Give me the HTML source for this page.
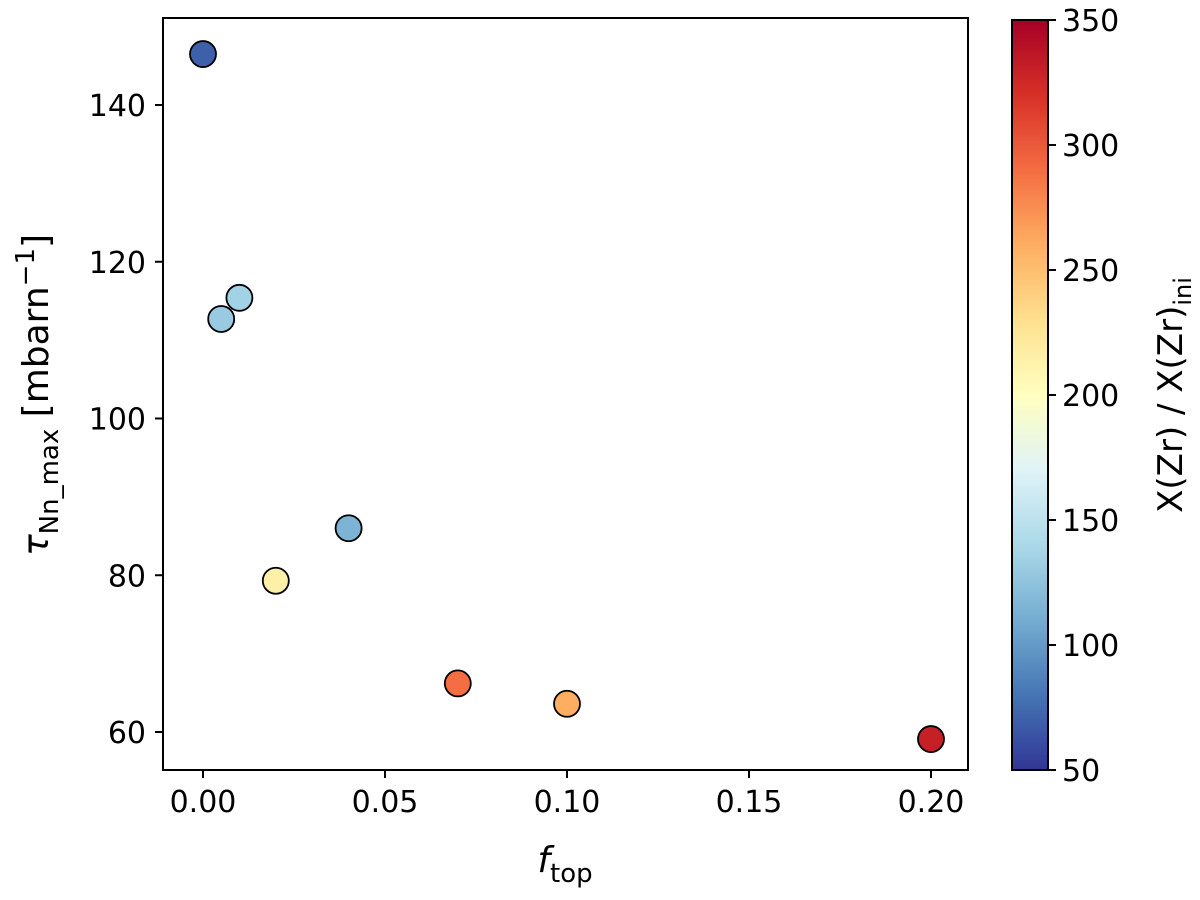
<!DOCTYPE html>
<html><head><meta charset="utf-8"><style>
html,body{margin:0;padding:0;background:#fff;}
svg text{font-family:"DejaVu Sans","Liberation Sans",sans-serif;fill:#000;}
</style></head><body>
<svg id="chart" width="1200" height="895" xmlns="http://www.w3.org/2000/svg">
<defs>
<linearGradient id="cmap" x1="0" y1="1" x2="0" y2="0">
<stop offset="0" stop-color="#313695"/><stop offset="0.1" stop-color="#4575b4"/>
<stop offset="0.2" stop-color="#74add1"/><stop offset="0.3" stop-color="#abd9e9"/>
<stop offset="0.4" stop-color="#e0f3f8"/><stop offset="0.5" stop-color="#ffffbf"/>
<stop offset="0.6" stop-color="#fee090"/><stop offset="0.7" stop-color="#fdae61"/>
<stop offset="0.8" stop-color="#f46d43"/><stop offset="0.9" stop-color="#d73027"/>
<stop offset="1" stop-color="#a50026"/>
</linearGradient>
</defs>
<g id="plot"></g>
</svg>
<script>
const fTop = [0.00, 0.005, 0.01, 0.02, 0.04, 0.07, 0.10, 0.20];
const tau = [146.5, 112.7, 115.4, 79.3, 86.0, 66.2, 63.6, 59.1];
const zrRatio = [70, 130, 135, 215, 115, 290, 260, 330];
const xTicks = [0.00, 0.05, 0.10, 0.15, 0.20];
const xTickLabels = ["0.00", "0.05", "0.10", "0.15", "0.20"];
const yTicks = [60, 80, 100, 120, 140];
const cTicks = [50, 100, 150, 200, 250, 300, 350];

const NS = "http://www.w3.org/2000/svg";
const L = 163, R = 968, T = 18, B = 770;
const X = v => 203 + v * 3640;
const Y = v => 732 - (v - 60) * 7.8375;
const CB = {x: 1012, w: 36, top: 20, bot: 770};
const C = v => CB.bot - (v - 50) / 300 * (CB.bot - CB.top);
const stops = ["#313695","#4575b4","#74add1","#abd9e9","#e0f3f8","#ffffbf","#fee090","#fdae61","#f46d43","#d73027","#a50026"];
function color(v){
  let t = Math.max(0, Math.min(1, (v - 50) / 300)) * 10;
  let i = Math.min(9, Math.floor(t)), f = t - i;
  const h = s => [1,3,5].map(k => parseInt(s.substr(k,2),16));
  const a = h(stops[i]), b = h(stops[i+1]);
  return "rgb(" + a.map((c,k) => Math.round(c + (b[k]-c)*f)).join(",") + ")";
}
const g = document.getElementById("plot");
function el(tag, attrs, text){
  const e = document.createElementNS(NS, tag);
  for (const k in attrs) e.setAttribute(k, attrs[k]);
  if (text !== undefined) e.textContent = text;
  g.appendChild(e); return e;
}
let e;
e = el("rect", {x:L, y:T, width:R-L, height:B-T, fill:"none", stroke:"#000", "stroke-width":2});


xTicks.forEach((v,i) => {
  e = el("line", {x1:X(v), x2:X(v), y1:B, y2:B+8, stroke:"#000", "stroke-width":2});
  
  
  e = el("text", {x:X(v), y:B+42, "font-size":30, "text-anchor":"middle"}, xTickLabels[i]);
  
  
});
yTicks.forEach(v => {
  e = el("line", {x1:L-8, x2:L, y1:Y(v), y2:Y(v), stroke:"#000", "stroke-width":2});
  
  
  e = el("text", {x:L-17, y:Y(v)+11, "font-size":30, "text-anchor":"end"}, String(v));
  
  
});
fTop.forEach((f,i) => {
  e = el("circle", {cx:X(f), cy:Y(tau[i]), r:13, fill:color(zrRatio[i]), stroke:"#000", "stroke-width":1.8});
  
  
});
e = el("text", {x:565, y:872, "font-size":36, "text-anchor":"middle"});
e.innerHTML = '<tspan font-style="italic">f</tspan><tspan font-size="26" dy="10">top</tspan>';


e = el("text", {transform:"translate(48,395) rotate(-90)", "font-size":36, "text-anchor":"middle"});
e.innerHTML = '<tspan font-style="italic">τ</tspan><tspan font-size="26" dy="10">Nn_max</tspan><tspan dy="-10"> [mbarn</tspan><tspan font-size="26" dy="-14">−1</tspan><tspan dy="14">]</tspan>';


e = el("rect", {x:CB.x, y:CB.top, width:CB.w, height:CB.bot-CB.top, fill:"url(#cmap)", stroke:"#000", "stroke-width":2});


cTicks.forEach(v => {
  e = el("line", {x1:CB.x+CB.w, x2:CB.x+CB.w+8, y1:C(v), y2:C(v), stroke:"#000", "stroke-width":2});
  
  
  e = el("text", {x:CB.x+CB.w+14, y:C(v)+11, "font-size":30}, String(v));
  
  
});
e = el("text", {transform:"translate(1182,395) rotate(-90)", "font-size":34, "text-anchor":"middle"});
e.innerHTML = 'X(Zr) / X(Zr)<tspan font-size="24" dy="9">ini</tspan>';


</script>
</body></html>
